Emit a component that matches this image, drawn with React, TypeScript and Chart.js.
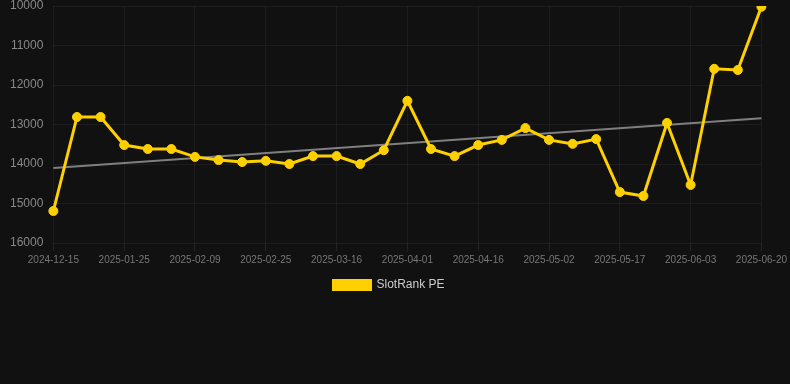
import React, { useEffect, useRef } from "react";
import { Chart, registerables } from "chart.js";

Chart.register(...registerables);

const categories = [
  "2024-12-15", "2024-12-29", "2025-01-10", "2025-01-25", "2025-01-30", "2025-02-04",
  "2025-02-09", "2025-02-14", "2025-02-19", "2025-02-25", "2025-03-03", "2025-03-10",
  "2025-03-16", "2025-03-21", "2025-03-26", "2025-04-01", "2025-04-06", "2025-04-11",
  "2025-04-16", "2025-04-21", "2025-04-27", "2025-05-02", "2025-05-07", "2025-05-12",
  "2025-05-17", "2025-05-23", "2025-05-28", "2025-06-03", "2025-06-09", "2025-06-14",
  "2025-06-20",
];

const rankValues = [
  15190, 12810, 12810, 13520, 13620, 13620, 13820, 13900, 13950, 13920, 14000, 13800,
  13800, 14000, 13650, 12400, 13620, 13800, 13520, 13390, 13090, 13390, 13490, 13370,
  14710, 14810, 12960, 14530, 11590, 11620, 10020,
];

const trendStart = 14100;
const trendEnd = 12840;

const yTicks = { min: 10000, max: 16000, step: 1000 };

export default function App() {
  const ref = useRef<HTMLCanvasElement | null>(null);

  useEffect(() => {
    document.body.style.margin = "0";
    document.body.style.background = "#111111";
    const trend = categories.map((_, i) =>
      i === 0 ? trendStart : i === categories.length - 1 ? trendEnd : null
    );
    const chart = new Chart(ref.current!, {
      type: "line",
      data: {
        labels: categories,
        datasets: [
          {
            label: "SlotRank PE",
            data: rankValues,
            borderColor: "#FFD000",
            backgroundColor: "#FFD000",
            borderWidth: 3,
            pointRadius: 4.5,
            pointHoverRadius: 4.5,
            pointBorderWidth: 1,
            pointBackgroundColor: "#FFD000",
            pointBorderColor: "#FFD000",
            tension: 0,
          },
          {
            label: "trend",
            data: trend,
            borderColor: "rgba(140,140,140,0.9)",
            backgroundColor: "rgba(140,140,140,0.9)",
            borderWidth: 2,
            pointRadius: 0,
            spanGaps: true,
          },
        ],
      },
      options: {
        animation: false,
        responsive: true,
        maintainAspectRatio: false,
        layout: { padding: { left: 8, right: 20, top: 0 } },
        plugins: {
          legend: {
            position: "bottom",
            labels: {
              color: "#cccccc",
              font: { size: 12, family: "'Liberation Sans', Arial, sans-serif" },
              boxWidth: 37,
              boxHeight: 9,
              filter: (item) => item.text !== "trend",
            },
          },
          tooltip: { enabled: false },
        },
        scales: {
          x: {
            grid: { color: "rgba(255,255,255,0.05)", tickColor: "rgba(255,255,255,0.08)" },
            border: { display: false },
            ticks: {
              color: "#777777",
              font: { size: 10, family: "'Liberation Sans', Arial, sans-serif" },
              autoSkip: false,
              maxRotation: 0,
              callback: function (_v, i) {
                return i % 3 === 0 ? categories[i as number] : null;
              },
            },
          },
          y: {
            reverse: true,
            min: yTicks.min,
            max: yTicks.max,
            grid: { color: "rgba(255,255,255,0.05)", tickColor: "rgba(255,255,255,0.0)" },
            border: { display: false },
            ticks: {
              stepSize: yTicks.step,
              padding: 2,
              color: "#888888",
              font: { size: 12, lineHeight: 0.67, family: "'Liberation Sans', Arial, sans-serif" },
              callback: (v) => String(v),
            },
          },
        },
      },
    });
    return () => chart.destroy();
  }, []);

  return (
    <div style={{ width: 790, height: 301, position: "relative" }}>
      <canvas ref={ref} />
    </div>
  );
}
